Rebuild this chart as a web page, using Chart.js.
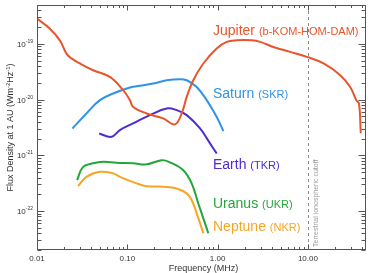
<!DOCTYPE html>
<html>
<head>
<meta charset="utf-8">
<script src="https://cdn.jsdelivr.net/npm/chart.js@4.4.1/dist/chart.umd.min.js"></script>
<style>
html, body { margin: 0; padding: 0; background: #fff; }
</style>
</head>
<body>
<canvas id="canvas" width="374" height="273"></canvas>
<script>
// frequency in MHz, flux density in W m^-2 Hz^-1
var jupiterFreq = [0.01, 0.0138, 0.0179, 0.0212, 0.0241, 0.0298, 0.0418, 0.0641, 0.090, 0.107, 0.116, 0.164, 0.25, 0.337, 0.40, 0.455, 0.538, 0.695, 0.977, 1.26, 1.63, 2.39, 2.96, 4.15, 6.36, 9.75, 14.9, 22.8, 29.4, 34.3, 36.8, 38.5];
var jupiterFlux = [2.85e-19, 1.89e-19, 1.16e-19, 6.7e-20, 5.5e-20, 4.46e-20, 3.37e-20, 2.56e-20, 1.48e-20, 9.8e-21, 7.4e-21, 5.65e-21, 4.6e-21, 3.6e-21, 5.65e-21, 1.12e-20, 2.23e-20, 4.46e-20, 8.3e-20, 1.09e-19, 1.16e-19, 1.16e-19, 1.09e-19, 8.8e-20, 7.2e-20, 5.85e-20, 4.46e-20, 2.75e-20, 1.69e-20, 9.8e-21, 8.5e-21, 2.5e-21];

var saturnFreq = [0.0247, 0.0353, 0.0497, 0.0697, 0.107, 0.127, 0.194, 0.273, 0.383, 0.455, 0.587, 0.758, 0.978, 1.16];
var saturnFlux = [3.04e-21, 5.65e-21, 9.8e-21, 1.29e-20, 1.65e-20, 1.74e-20, 1.95e-20, 2.23e-20, 2.33e-20, 2.23e-20, 1.69e-20, 9.8e-21, 4.9e-21, 2.72e-21];

var earthFreq = [0.0488, 0.0669, 0.0827, 0.116, 0.178, 0.273, 0.352, 0.455, 0.639, 0.824, 0.978];
var earthFlux = [2.47e-21, 2.15e-21, 2.84e-21, 3.74e-21, 5.27e-21, 6.95e-21, 6.48e-21, 5.27e-21, 3.04e-21, 1.64e-21, 1.08e-21];

var uranusFreq = [0.0278, 0.0324, 0.0418, 0.054, 0.076, 0.116, 0.164, 0.24, 0.297, 0.417, 0.516, 0.611, 0.726, 0.789];
var uranusFlux = [3.6e-22, 6.2e-22, 7.2e-22, 7.66e-22, 7.35e-22, 7.2e-22, 6.9e-22, 8.2e-22, 7.5e-22, 5.4e-22, 3.14e-22, 1.37e-22, 6.0e-23, 4.0e-23];

var neptuneFreq = [0.0285, 0.0353, 0.0497, 0.0697, 0.0827, 0.127, 0.164, 0.25, 0.352, 0.455, 0.516, 0.587, 0.695];
var neptuneFlux = [2.8e-22, 4.12e-22, 5.07e-22, 4.75e-22, 4.12e-22, 3.14e-22, 2.8e-22, 2.73e-22, 2.55e-22, 2.08e-22, 1.58e-22, 9.1e-23, 4.0e-23];

var seriesNames = ['Jupiter', 'Saturn', 'Earth', 'Uranus', 'Neptune'];
var seriesTags = ['(b-KOM-HOM-DAM)', '(SKR)', '(TKR)', '(UKR)', '(NKR)'];
var seriesColors = ['#e8552b', '#2f93e8', '#4f2bd0', '#24a53a', '#f6a624'];

var xTickValues = [0.01, 0.1, 1, 10];
var xTickLabels = ['0.01', '0.10', '1.00', '10.00'];
var yTickValues = [1e-19, 1e-20, 1e-21, 1e-22];
var yTickExps = ['-19', '-20', '-21', '-22'];
var cutoffFreq = 10;

var FONT = '"Liberation Sans", Arial, Helvetica, sans-serif';

function pts(xs, ys) {
    return xs.map(function(x, i) { return {x: x, y: ys[i]}; });
}

function logTicks(min, max) {
    var out = [];
    for (var e = Math.floor(Math.log10(min)); e <= Math.ceil(Math.log10(max)); e++) {
        for (var m = 1; m < 10; m++) {
            var v = m * Math.pow(10, e);
            if (v >= min * 0.9999 && v <= max * 1.0001) out.push({v: v, major: m === 1});
        }
    }
    return out;
}

var allFreq = [jupiterFreq, saturnFreq, earthFreq, uranusFreq, neptuneFreq];
var allFlux = [jupiterFlux, saturnFlux, earthFlux, uranusFlux, neptuneFlux];

var datasets = seriesNames.map(function(name, i) {
    return {
        label: name,
        data: pts(allFreq[i], allFlux[i]),
        borderColor: seriesColors[i],
        borderWidth: 2,
        pointRadius: 0,
        fill: false,
        tension: 0.4
    };
});

// label baselines next to the curves
var labelY = [35, 98, 169, 208, 231];

var boxPlugin = {
    id: 'box',
    beforeDatasetsDraw: function(chart) {
        var ctx = chart.ctx, a = chart.chartArea, xs = chart.scales.x;
        var xc = Math.round(xs.getPixelForValue(cutoffFreq)) + 0.5;
        ctx.save();
        ctx.strokeStyle = '#8a8a8a';
        ctx.lineWidth = 1;
        ctx.setLineDash([3, 3]);
        ctx.beginPath();
        ctx.moveTo(xc, a.top);
        ctx.lineTo(xc, a.bottom);
        ctx.stroke();
        ctx.setLineDash([]);
        ctx.translate(xc + 7.5, a.bottom - 3);
        ctx.rotate(-Math.PI / 2);
        ctx.fillStyle = '#9a9a9a';
        ctx.font = '7px ' + FONT;
        ctx.textBaseline = 'middle';
        ctx.textAlign = 'left';
        ctx.fillText('Terrestrial ionospheric cutoff', 0, 0);
        ctx.restore();
    },
    afterDraw: function(chart) {
        var ctx = chart.ctx, a = chart.chartArea;
        var xs = chart.scales.x, ys = chart.scales.y;
        ctx.save();
        ctx.strokeStyle = '#555';
        ctx.lineWidth = 1;
        var L = Math.round(a.left) + 0.5, R = Math.round(a.right) - 0.5;
        var T = Math.round(a.top) + 0.5, B = Math.round(a.bottom) - 0.5;
        ctx.strokeRect(L, T, R - L, B - T);

        ctx.beginPath();
        logTicks(xs.min, xs.max).forEach(function(t) {
            var px = Math.round(xs.getPixelForValue(t.v)) + 0.5;
            var len = t.major ? 5 : 2.5;
            ctx.moveTo(px, B); ctx.lineTo(px, B - len);
            ctx.moveTo(px, T); ctx.lineTo(px, T + len);
        });
        logTicks(ys.min, ys.max).forEach(function(t) {
            var py = Math.round(ys.getPixelForValue(t.v)) + 0.5;
            var len = t.major ? 7 : 4;
            ctx.moveTo(L, py); ctx.lineTo(L + len, py);
            ctx.moveTo(R, py); ctx.lineTo(R - len, py);
        });
        ctx.stroke();

        // x tick labels
        ctx.fillStyle = '#333';
        ctx.font = '8px ' + FONT;
        ctx.textAlign = 'center';
        ctx.textBaseline = 'middle';
        xTickValues.forEach(function(v, i) {
            ctx.fillText(xTickLabels[i], xs.getPixelForValue(v), a.bottom + 9);
        });

        // y tick labels with superscript exponents
        yTickValues.forEach(function(v, i) {
            var py = ys.getPixelForValue(v);
            ctx.font = '5px ' + FONT;
            var ew = ctx.measureText(yTickExps[i]).width;
            ctx.font = '8px ' + FONT;
            var bw = ctx.measureText('10').width;
            var right = a.left - 4;
            ctx.textAlign = 'left';
            ctx.textBaseline = 'alphabetic';
            ctx.fillText('10', right - ew - bw, py + 3);
            ctx.font = '5px ' + FONT;
            ctx.fillText(yTickExps[i], right - ew, py - 1);
        });

        // axis titles
        ctx.font = '9px ' + FONT;
        ctx.textAlign = 'center';
        ctx.textBaseline = 'middle';
        ctx.fillText('Frequency (MHz)', (a.left + a.right) / 2 + 2, a.bottom + 19);

        var parts = [['Flux Density at 1 AU (Wm', 0], ['-2', 1], ['Hz', 0], ['-1', 1], [')', 0]];
        var total = 0;
        parts.forEach(function(p) {
            ctx.font = (p[1] ? '6px ' : '9px ') + FONT;
            p.w = ctx.measureText(p[0]).width;
            total += p.w;
        });
        ctx.save();
        ctx.translate(10, (a.top + a.bottom) / 2);
        ctx.rotate(-Math.PI / 2);
        ctx.textAlign = 'left';
        ctx.textBaseline = 'alphabetic';
        var cx = -total / 2;
        parts.forEach(function(p) {
            ctx.font = (p[1] ? '6px ' : '9px ') + FONT;
            ctx.fillText(p[0], cx, p[1] ? -0.5 : 3);
            cx += p.w;
        });
        ctx.restore();

        // series labels
        ctx.textAlign = 'left';
        ctx.textBaseline = 'alphabetic';
        seriesNames.forEach(function(name, i) {
            ctx.fillStyle = seriesColors[i];
            ctx.font = '14px ' + FONT;
            ctx.fillText(name, 213, labelY[i]);
            var w = ctx.measureText(name + ' ').width;
            ctx.font = '11px ' + FONT;
            ctx.fillText(seriesTags[i], 213 + w, labelY[i]);
        });
        ctx.restore();
    }
};

var ctx = document.getElementById('canvas').getContext('2d');
var chart = new Chart(ctx, {
    type: 'line',
    data: { datasets: datasets },
    options: {
        responsive: false,
        animation: false,
        devicePixelRatio: 1,
        layout: { padding: { top: 5, right: 8, left: 0, bottom: 0 } },
        plugins: { legend: { display: false }, tooltip: { enabled: false } },
        scales: {
            x: {
                type: 'logarithmic',
                min: 0.01,
                max: 44,
                ticks: { display: false },
                grid: { display: false },
                border: { display: false },
                afterFit: function(s) { s.height = 23; }
            },
            y: {
                type: 'logarithmic',
                min: 2e-23,
                max: 5e-19,
                ticks: { display: false },
                grid: { display: false },
                border: { display: false },
                afterFit: function(s) { s.width = 37; }
            }
        }
    },
    plugins: [boxPlugin]
});
</script>
</body>
</html>
